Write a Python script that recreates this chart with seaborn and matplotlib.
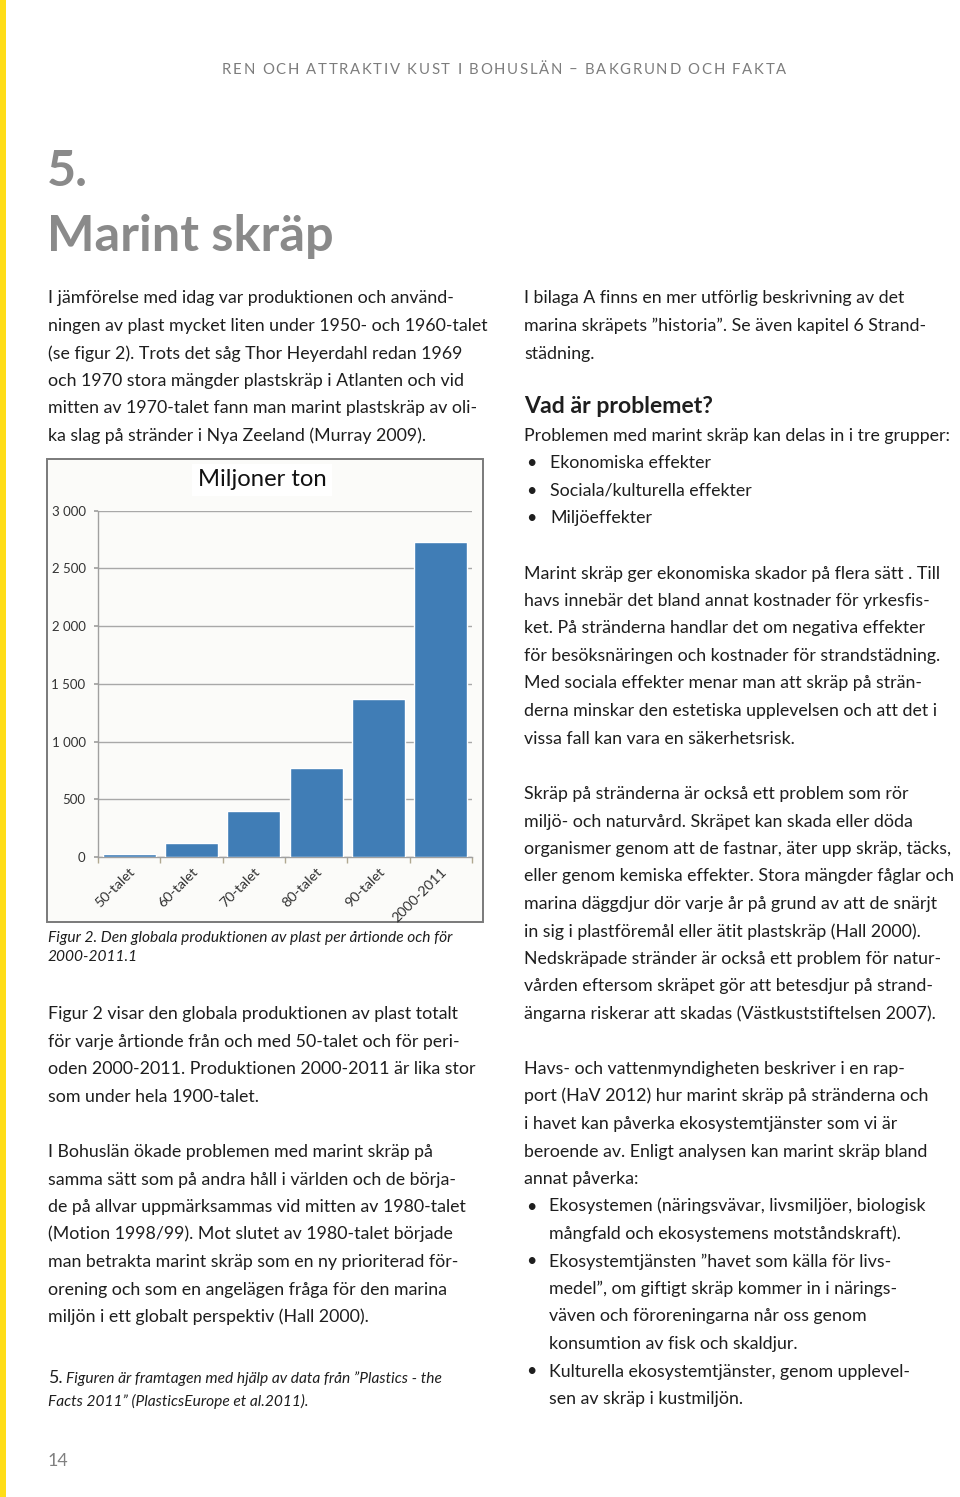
import numpy as np
import matplotlib.pyplot as plt
import matplotlib.transforms as mtrans
import seaborn as sns
from matplotlib.patches import Rectangle

W, H = 960, 1497

# chart data (miljoner ton)
decades = ["50-talet", "60-talet", "70-talet", "80-talet", "90-talet", "2000-2011"]
production = [30, 125, 400, 775, 1365, 2725]
y_ticks = [0, 500, 1000, 1500, 2000, 2500, 3000]
y_tick_labels = ["0", "500", "1 000", "1 500", "2 000", "2 500", "3 000"]

header = "REN OCH ATTRAKTIV KUST I BOHUSLÄN – BAKGRUND OCH FAKTA"

left_p1 = [
    "I jämförelse med idag var produktionen och använd-",
    "ningen av plast mycket liten under 1950- och 1960-talet",
    "(se figur 2). Trots det såg Thor Heyerdahl redan 1969",
    "och 1970 stora mängder plastskräp i Atlanten och vid",
    "mitten av 1970-talet fann man marint plastskräp av oli-",
    "ka slag på stränder i Nya Zeeland (Murray 2009).",
]
caption = [
    "Figur 2. Den globala produktionen av plast per årtionde och för",
    "2000-2011.1",
]
left_p2 = [
    "Figur 2 visar den globala produktionen av plast totalt",
    "för varje årtionde från och med 50-talet och för peri-",
    "oden 2000-2011. Produktionen 2000-2011 är lika stor",
    "som under hela 1900-talet.",
]
left_p3 = [
    "I Bohuslän ökade problemen med marint skräp på",
    "samma sätt som på andra håll i världen och de börja-",
    "de på allvar uppmärksammas vid mitten av 1980-talet",
    "(Motion 1998/99). Mot slutet av 1980-talet började",
    "man betrakta marint skräp som en ny prioriterad för-",
    "orening och som en angelägen fråga för den marina",
    "miljön i ett globalt perspektiv (Hall 2000).",
]
footnote = [
    "Figuren är framtagen med hjälp av data från ”Plastics - the",
    "Facts 2011” (PlasticsEurope et al.2011).",
]

right_p1 = [
    "I bilaga A finns en mer utförlig beskrivning av det",
    "marina skräpets ”historia”. Se även kapitel 6 Strand-",
    "städning.",
]
heading = "Vad är problemet?"
right_intro = "Problemen med marint skräp kan delas in i tre grupper:"
groups = ["Ekonomiska effekter", "Sociala/kulturella effekter", "Miljöeffekter"]
right_p2 = [
    "Marint skräp ger ekonomiska skador på flera sätt . Till",
    "havs innebär det bland annat kostnader för yrkesfis-",
    "ket. På stränderna handlar det om negativa effekter",
    "för besöksnäringen och kostnader för strandstädning.",
    "Med sociala effekter menar man att skräp på strän-",
    "derna minskar den estetiska upplevelsen och att det i",
    "vissa fall kan vara en säkerhetsrisk.",
]
right_p3 = [
    "Skräp på stränderna är också ett problem som rör",
    "miljö- och naturvård. Skräpet kan skada eller döda",
    "organismer genom att de fastnar, äter upp skräp, täcks,",
    "eller genom kemiska effekter. Stora mängder fåglar och",
    "marina däggdjur dör varje år på grund av att de snärjt",
    "in sig i plastföremål eller ätit plastskräp (Hall 2000).",
    "Nedskräpade stränder är också ett problem för natur-",
    "vården eftersom skräpet gör att betesdjur på strand-",
    "ängarna riskerar att skadas (Västkuststiftelsen 2007).",
]
right_p4 = [
    "Havs- och vattenmyndigheten beskriver i en rap-",
    "port (HaV 2012) hur marint skräp på stränderna och",
    "i havet kan påverka ekosystemtjänster som vi är",
    "beroende av. Enligt analysen kan marint skräp bland",
    "annat påverka:",
]
services = [
    ["Ekosystemen (näringsvävar, livsmiljöer, biologisk",
     "mångfald och ekosystemens motståndskraft)."],
    ["Ekosystemtjänsten ”havet som källa för livs-",
     "medel”, om giftigt skräp kommer in i närings-",
     "väven och föroreningarna når oss genom",
     "konsumtion av fisk och skaldjur."],
    ["Kulturella ekosystemtjänster, genom upplevel-",
     "sen av skräp i kustmiljön."],
]

sns.set_theme(style="white")
plt.rcParams["font.family"] = ["Lato", "DejaVu Sans"]

fig = plt.figure(figsize=(W / 100, H / 100), dpi=100)
fig.patch.set_facecolor("white")

TXT = "#1e1e1e"
GREY = "#8a8a8a"
BODY = 12.8
SMALL = 11.2
LS = 27.5


def fx(x):
    return x / W


def fy(y):
    return 1 - y / H


def put(x, y, s, **kw):
    kw.setdefault("color", TXT)
    kw.setdefault("fontsize", BODY)
    return fig.text(fx(x), fy(y), s, va="baseline", **kw)


def block(x, y0, lines, step=LS, **kw):
    for i, s in enumerate(lines):
        put(x, y0 + i * step, s, **kw)


def spaced(x0, x1, y, s, **kw):
    # letter-spaced caps line for the running header
    r = fig.canvas.get_renderer()

    def width(t):
        tt = fig.text(0, 0, t + "|", **kw)
        w = tt.get_window_extent(r).width
        tt.remove()
        return w

    bar = width("")
    pre = [width(s[:i]) - bar for i in range(len(s))]
    total = width(s) - bar
    track = ((x1 - x0) - total) / (len(s) - 1)
    for i, ch in enumerate(s):
        fig.text(fx(x0 + pre[i] + i * track), fy(y), ch, va="baseline", **kw)


# yellow edge
fig.add_artist(Rectangle((0, 0), fx(6), 1, transform=fig.transFigure,
                         facecolor="#ffdd17", edgecolor="none", zorder=-2))

spaced(222, 786, 74, header, fontsize=10.7, color="#7c7c7c")

put(47, 186, "5.", fontsize=36.3, fontweight="bold", color=GREY)
put(47, 251, "Marint skräp", fontsize=36.3, fontweight="bold", color=GREY)

# left column
block(48, 303.5, left_p1)
block(48, 942, caption, step=19, fontsize=SMALL, style="italic")
block(48, 1019, left_p2)
block(48, 1157, left_p3)
put(48, 1383, "5.", fontsize=BODY)
put(66, 1383, footnote[0], fontsize=SMALL, style="italic")
put(48, 1406, footnote[1], fontsize=SMALL, style="italic")
put(48, 1466, "14", color="#808080")

# right column
block(524, 303.5, right_p1)
put(524, 413, heading, fontsize=16.6, fontweight="bold")
put(524, 440.5, right_intro)
for i, g in enumerate(groups):
    put(526, 468 + i * LS, "•")
    put(550, 468 + i * LS, g)
block(524, 578.5, right_p2)
block(524, 799, right_p3)
block(524, 1074, right_p4)
row = len(right_p4)
for item in services:
    put(526, 1074 + row * LS, "•")
    for s in item:
        put(549, 1074 + row * LS, s)
        row += 1

# chart frame
fig.add_artist(Rectangle((fx(47), fy(922)), (483 - 47) / W, (922 - 459) / H,
                         transform=fig.transFigure, facecolor="#fbfbf9",
                         edgecolor="#7a7a7a", lw=1.4, zorder=-1))

ax = fig.add_axes([fx(98), fy(857), (472 - 98) / W, (857 - 510.7) / H])
ax.set_facecolor("none")
sns.barplot(x=decades, y=production, color="#407db6", saturation=1,
            width=0.85, ax=ax, zorder=3)
ax.set_ylim(0, 3000)
ax.set_xlim(-0.5, 5.5)
ax.set_yticks(y_ticks, y_tick_labels)
ax.yaxis.grid(True, color="#a8a8a8", lw=1)
ax.set_axisbelow(True)
for side in ["top", "right"]:
    ax.spines[side].set_visible(False)
for side in ["left", "bottom"]:
    ax.spines[side].set_color("#a0a0a0")
    ax.spines[side].set_linewidth(1)
ax.set_xlabel("")
ax.set_ylabel("")
ax.set_xticks(range(len(decades)), decades, rotation=45, ha="right",
              va="center", rotation_mode="anchor")
ax.set_xticks(np.arange(-0.5, len(decades), 1), minor=True)
ax.tick_params(axis="x", which="major", length=0, pad=9, labelsize=10.3,
               labelcolor="#333333")
ax.tick_params(axis="x", which="minor", length=4, color="#b0a890",
               direction="out", bottom=True)
ax.tick_params(axis="y", length=3, color="#a0a0a0", labelsize=9.5,
               pad=6, labelcolor="#333333", left=True)
shift = mtrans.ScaledTranslation(4 / 100, 0, fig.dpi_scale_trans)
for lab in ax.get_xticklabels():
    lab.set_transform(lab.get_transform() + shift)

put(262, 486.5, "Miljoner ton", fontsize=17.2, ha="center", color="#111111",
    bbox=dict(facecolor="white", edgecolor="none", pad=4))

fig.savefig("out.png", dpi=100, facecolor="white")
